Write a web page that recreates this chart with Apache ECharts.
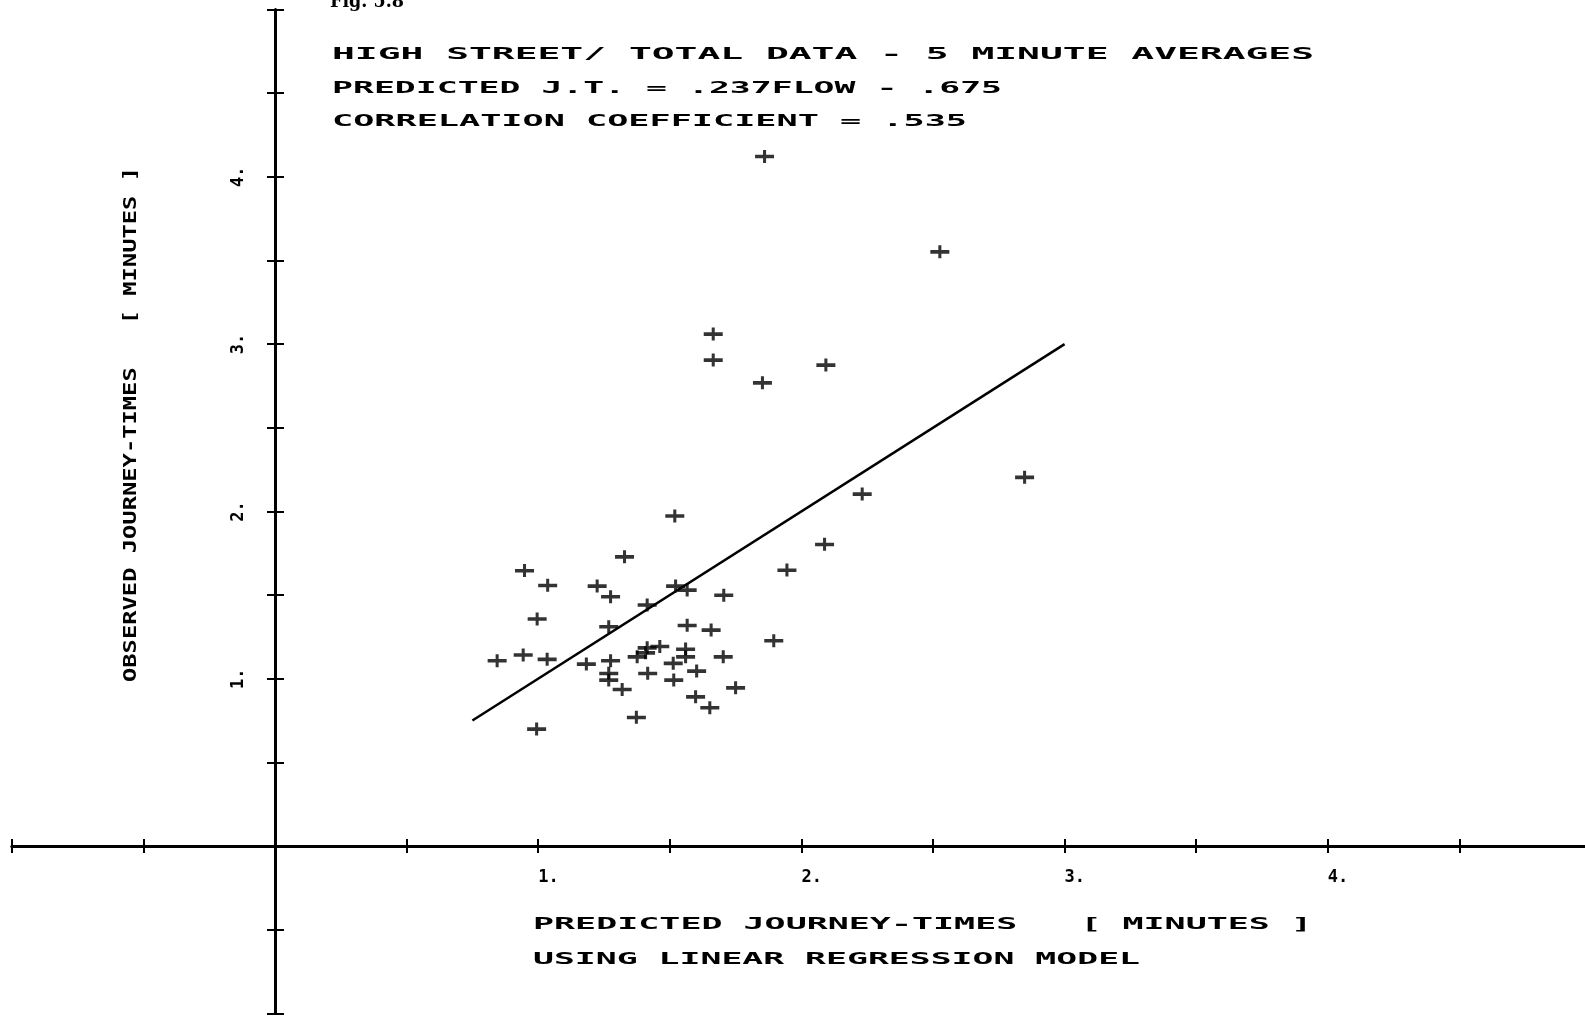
<!DOCTYPE html>
<html><head><meta charset="utf-8">
<script src="https://cdn.jsdelivr.net/npm/echarts@6/dist/echarts.min.js"></script>
<style>html,body{margin:0;padding:0;background:#fff;overflow:hidden}#c{width:1585px;height:1019px}</style>
</head><body><div id="c"></div>
<script>
// ---- data ----
const predicted = [1.860,2.526,1.665,1.665,2.093,1.852,2.848,2.231,1.519,2.088,
  1.945,1.328,0.948,1.036,1.224,1.275,1.522,1.566,1.705,1.414,
  0.996,1.268,1.566,1.657,1.895,0.844,0.943,1.034,1.183,1.275,
  1.414,1.462,1.376,1.408,1.560,1.560,1.703,1.513,1.268,1.268,
  1.416,1.602,1.515,1.319,1.750,1.598,1.652,1.373,0.994];
const observed = [4.122,3.552,3.060,2.905,2.875,2.769,2.204,2.104,1.973,1.803,
  1.649,1.729,1.646,1.558,1.554,1.490,1.554,1.530,1.499,1.441,
  1.357,1.311,1.319,1.291,1.227,1.108,1.142,1.116,1.088,1.108,
  1.185,1.193,1.131,1.155,1.177,1.131,1.131,1.092,1.032,0.992,
  1.032,1.046,0.992,0.936,0.946,0.892,0.827,0.769,0.699];
const fitX = [0.75, 3.0];
const fitY = [0.75, 3.0];
const xTickLabels = {1:'1.', 2:'2.', 3:'3.', 4:'4.'};
const yTickLabels = {1:'1.', 2:'2.', 3:'3.', 4:'4.'};
const figLabel = 'Fig. 5.8';
const titleLines = ['HIGH STREET/ TOTAL DATA - 5 MINUTE AVERAGES',
  'PREDICTED J.T. = .237FLOW - .675',
  'CORRELATION COEFFICIENT = .535'];
const xTitleLines = ['PREDICTED JOURNEY-TIMES   [ MINUTES ]',
  'USING LINEAR REGRESSION MODEL'];
const yTitle = 'OBSERVED JOURNEY-TIMES   [ MINUTES ]';

// ---- rendering ----
const FONT = 'DejaVu Sans Mono';
const cv = document.createElement('canvas').getContext('2d');
function measure(text, size, family, weight) {
  cv.font = (weight || 'normal') + ' ' + size + 'px "' + family + '"';
  return cv.measureText(text).width;
}
function stretchedText(text, x, y, size, targetW, opts) {
  opts = opts || {};
  const fam = opts.family || FONT;
  const wt = opts.weight || 'bold';
  const w = measure(text, size, fam, wt);
  return {
    type: 'text', x: x, y: y, rotation: opts.rotation || 0,
    scaleX: targetW / w, scaleY: opts.scaleY || 1,
    style: {text: text, fontFamily: fam, fontSize: size, fontWeight: wt,
      fill: '#000', align: 'left', textAlign: 'left',
      verticalAlign: 'middle', textVerticalAlign: 'middle'}
  };
}

const scatterData = predicted.map((p, i) => [p, observed[i]]);
const fitData = fitX.map((v, i) => [v, fitY[i]]);

// plot frame: value 0 sits at x=275 / y=846 on the page
const G = {left: 11.8, right: -6, top: 9.5, bottom: 5.7};
const OFFX = -(275 - G.left);          // y axes moved onto x = 0
const OFFY = -(1019 - G.bottom - 846); // x axes moved onto y = 0

const axisLineStyle = {color: '#000', width: 3};
const tickStyle = {color: '#000', width: 2};
const labelFont = {fontFamily: FONT, fontSize: 17, fontWeight: 'bold', color: '#000'};

const graphics = [
  stretchedText(figLabel, 330, 2, 18, 74, {family: 'DejaVu Serif', weight: 'bold'}),
  stretchedText(titleLines[0], 332, 55.5, 15, 982),
  stretchedText(titleLines[1], 332, 89, 15, 670),
  stretchedText(titleLines[2], 332, 122, 15, 635),
  stretchedText(xTitleLines[0], 533, 925, 15, 779),
  stretchedText(xTitleLines[1], 533, 960, 15, 607),
  stretchedText(yTitle, 131, 682, 18, 515, {rotation: Math.PI / 2})
];

const option = {
  backgroundColor: '#fff',
  animation: false,
  grid: {left: G.left, right: G.right, top: G.top, bottom: G.bottom, outerBoundsMode: 'none', containLabel: false},
  xAxis: [
    {type: 'value', min: -1, max: 5, interval: 0.5, position: 'bottom', offset: OFFY,
      axisLine: {onZero: false, lineStyle: axisLineStyle},
      axisTick: {show: true, length: 7, lineStyle: tickStyle},
      axisLabel: Object.assign({formatter: v => xTickLabels[v] || '', align: 'left',
        verticalAlign: 'middle', margin: 32}, labelFont),
      splitLine: {show: false}},
    {type: 'value', min: -1, max: 5, interval: 0.5, position: 'bottom', offset: OFFY,
      axisLine: {onZero: false, show: false},
      axisTick: {show: true, inside: true, length: 7, lineStyle: tickStyle},
      axisLabel: {show: false}, splitLine: {show: false}}
  ],
  yAxis: [
    {type: 'value', min: -1, max: 5, interval: 0.5, position: 'left', offset: OFFX,
      axisLine: {onZero: false, lineStyle: axisLineStyle},
      axisTick: {show: true, length: 8, lineStyle: tickStyle},
      axisLabel: Object.assign({formatter: v => yTickLabels[v] || '', rotate: 90, align: 'center',
        verticalAlign: 'middle', margin: 36}, labelFont),
      splitLine: {show: false}},
    {type: 'value', min: -1, max: 5, interval: 0.5, position: 'left', offset: OFFX,
      axisLine: {onZero: false, show: false},
      axisTick: {show: true, inside: true, length: 9, lineStyle: tickStyle},
      axisLabel: {show: false}, splitLine: {show: false}}
  ],
  series: [
    {type: 'line', data: fitData, showSymbol: false, symbol: 'none',
      lineStyle: {color: '#000', width: 2.5}, silent: true, z: 3},
    {type: 'scatter', data: scatterData,
      symbol: 'path://M0,4.8H20V8.4H0Z M8.4,0H11.6V13H8.4Z', symbolSize: [19, 13],
      itemStyle: {color: '#000'}, z: 4}
  ],
  graphic: graphics
};
const chart = echarts.init(document.getElementById('c'), null, {renderer: 'canvas'});
chart.setOption(option);
</script>
</body></html>
